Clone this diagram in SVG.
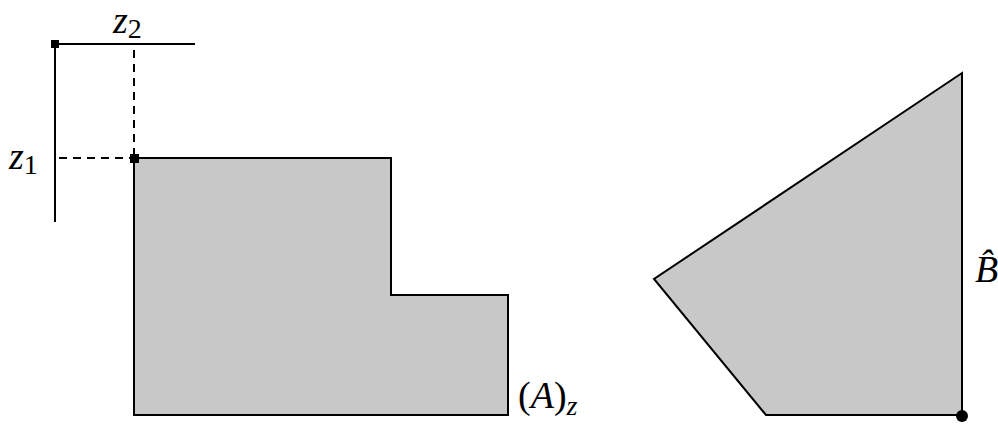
<svg xmlns="http://www.w3.org/2000/svg" width="998" height="424" viewBox="0 0 998 424">
<style>
.ln{stroke:#000;stroke-width:2;fill:none}
.dash{stroke:#000;stroke-width:2;fill:none;stroke-dasharray:8,6}
.sh{fill:#c8c8c8;stroke:#000;stroke-width:2}
.t{font-family:"Liberation Serif","Times New Roman",serif;font-style:italic;font-size:38px;fill:#000}
.s{font-style:normal;font-size:28px}
</style>
<g id="axes">
<line class="ln" x1="55" y1="44" x2="195" y2="44"/>
<line class="ln" x1="55" y1="44" x2="55" y2="222"/>
<rect x="51" y="40" width="8" height="8" fill="#000"/>
<line class="dash" x1="134" y1="50" x2="134" y2="158"/>
<line class="dash" x1="59" y1="158" x2="134" y2="158"/>
</g>
<g id="A">
<polygon class="sh" points="134,158 391,158 391,295 508,295 508,415 134,415"/>
<rect x="130" y="154" width="9" height="9" fill="#000"/>
</g>
<g id="B">
<polygon class="sh" points="962,73 962,415 766,415 654,279"/>
<circle cx="962" cy="416" r="6" fill="#000"/>
</g>
<g id="labels">
<text class="t" x="113" y="33">z<tspan class="s" dy="5">2</tspan></text>
<text class="t" x="9" y="169">z<tspan class="s" dy="5">1</tspan></text>
<text class="t" x="518" y="408"><tspan font-style="normal">(</tspan>A<tspan font-style="normal">)</tspan><tspan font-size="28" dy="7">z</tspan></text>
<text class="t" x="975" y="282">B&#x302;</text>
</g>
</svg>
